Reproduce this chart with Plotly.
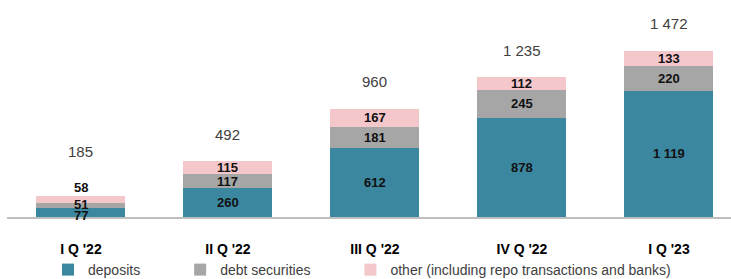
import plotly.graph_objects as go

categories = ["I Q '22", "II Q '22", "III Q '22", "IV Q '22", "I Q '23"]
deposits = [77, 260, 612, 878, 1119]
debt_securities = [51, 117, 181, 245, 220]
other = [58, 115, 167, 112, 133]
totals = [185, 492, 960, 1235, 1472]

series_names = ["deposits", "debt securities", "other (including repo transactions and banks)"]
legend_pad = [9, 9, 0]  # trailing spaces to widen legend entries
colors = ["#3b87a0", "#a6a6a6", "#f4c7cb"]

FONT = "Liberation Sans, Arial, sans-serif"
W, H = 731, 279
ML, MR, MT, MB = 7, 0, 20, 62
YMAX = 1743
plot_h = H - MT - MB
px_per_unit = plot_h / YMAX


def fmt(v):
    return f"{v:,}".replace(",", " ")


fig = go.Figure()
for name, pad, vals, col in zip(series_names, legend_pad, [deposits, debt_securities, other], colors):
    fig.add_trace(go.Bar(
        x=categories, y=vals, name=name + "\u00a0" * pad,
        marker=dict(color=col, line=dict(width=0)),
        hovertemplate=name + ": %{y}<extra></extra>",
    ))

annotations = []
for i, cat in enumerate(categories):
    segs = [deposits[i], debt_securities[i], other[i]]
    stack_total = sum(segs)
    thin = stack_total * px_per_unit < 40
    base = 0
    for k, v in enumerate(segs):
        if thin:
            if k == 0:
                y, ys = 0, 2
            elif k == 1:
                y, ys = 0, 13
            else:
                y, ys = stack_total, 8
        else:
            y, ys = base + v / 2, 0
        annotations.append(dict(
            x=cat, y=y, yshift=ys, text=f"<b>{fmt(v)}</b>", showarrow=False,
            xref="x", yref="y", yanchor="middle",
            font=dict(family=FONT, size=13, color="#111111"),
        ))
        base += v
    annotations.append(dict(
        x=cat, y=stack_total, yshift=(44 if thin else 27), text=fmt(totals[i]), showarrow=False,
        xref="x", yref="y", yanchor="middle",
        font=dict(family=FONT, size=15, color="#404040"),
    ))

plot_w = W - ML - MR
spacing = 147
span = plot_w / spacing
x0 = -0.503

fig.update_layout(
    barmode="stack",
    bargap=0.395,
    width=W, height=H,
    margin=dict(l=ML, r=MR, t=MT, b=MB, pad=0, autoexpand=False),
    paper_bgcolor="white", plot_bgcolor="white",
    font=dict(family=FONT, size=14, color="#404040"),
    annotations=annotations,
    showlegend=True,
    legend=dict(
        orientation="h", xanchor="left", yanchor="middle",
        xref="container", yref="container",
        x=48 / W, y=1 - 270 / H,
        font=dict(family=FONT, size=14, color="#404040"),
        itemwidth=30, traceorder="normal",
        bgcolor="rgba(0,0,0,0)",
    ),
    xaxis=dict(
        range=[x0, x0 + span],
        showgrid=False, zeroline=False, showline=True, linecolor="#bfbfbf", linewidth=1.5,
        ticks="", ticklabelstandoff=18, automargin=False,
        tickfont=dict(family=FONT, size=14, color="#000000", weight="bold"),
        fixedrange=True,
    ),
    yaxis=dict(range=[0, YMAX], visible=False, fixedrange=True),
)

fig.write_html(
    "out.html",
    config={"displayModeBar": False},
    post_script=(
        "var s=document.createElement('style');"
        "s.textContent='html,body{margin:0;padding:0;overflow:hidden;}';"
        "document.head.appendChild(s);window.scrollTo(0,0);"
    ),
)
